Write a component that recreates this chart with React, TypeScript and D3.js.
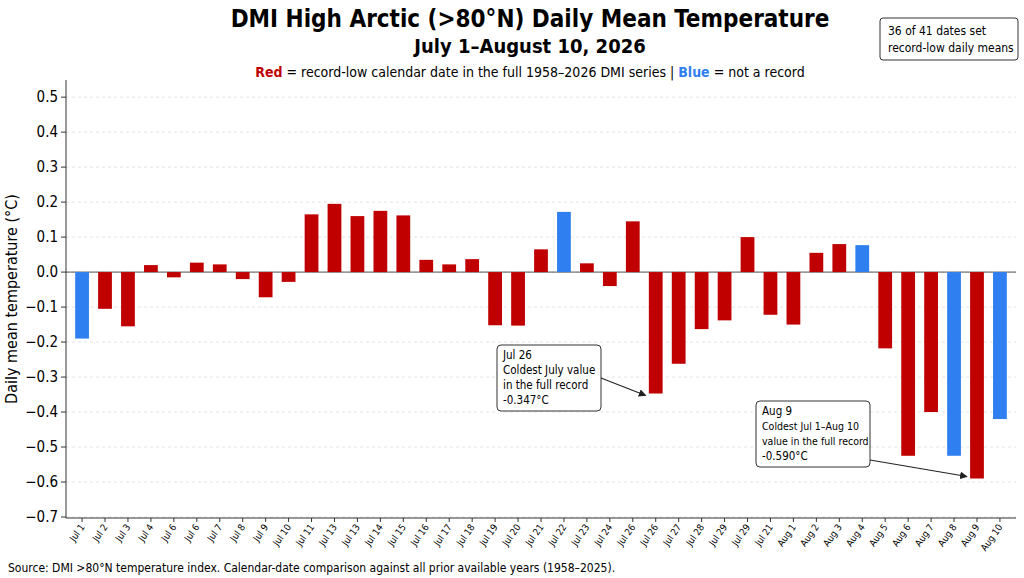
import React from "react";
import { scaleBand, scaleLinear, range } from "d3";

const labels = [
  "Jul 1", "Jul 2", "Jul 3", "Jul 4", "Jul 6", "Jul 6", "Jul 7", "Jul 8", "Jul 9", "Jul 10",
  "Jul 11", "Jul 13", "Jul 13", "Jul 14", "Jul 15", "Jul 16", "Jul 17", "Jul 18", "Jul 19", "Jul 20",
  "Jul 21", "Jul 22", "Jul 23", "Jul 24", "Jul 26", "Jul 26", "Jul 27", "Jul 28", "Jul 29", "Jul 29",
  "Jul 21", "Aug 1", "Aug 2", "Aug 3", "Aug 4", "Aug 5", "Aug 6", "Aug 7", "Aug 8", "Aug 9", "Aug 10",
];
const values = [
  -0.19, -0.105, -0.155, 0.02, -0.015, 0.027, 0.022, -0.02, -0.072, -0.028,
  0.165, 0.195, 0.16, 0.175, 0.162, 0.035, 0.022, 0.037, -0.152, -0.153,
  0.065, 0.172, 0.025, -0.04, 0.145, -0.347, -0.262, -0.163, -0.138, 0.1,
  -0.122, -0.15, 0.055, 0.08, 0.077, -0.218, -0.525, -0.4, -0.525, -0.59, -0.42,
];
const records = values.map((_, i) => ![0, 21, 34, 38, 40].includes(i));
const yTicks = range(-7, 6).map((v) => v / 10);

const RED = "#c00000";
const BLUE = "#2f7ff0";
const W = 1024, H = 578;
const M = { left: 66, right: 1016, top: 80, bottom: 518 };
const font = "'DejaVu Sans Condensed', 'DejaVu Sans', sans-serif";

export default function App() {
  const x = scaleBand<number>().domain(range(labels.length)).range([M.left, M.right]).padding(0.4);
  const y = scaleLinear().domain([-0.7, 0.549]).range([M.bottom - 1, M.top]);
  const cx = (i: number) => x(i)! + x.bandwidth() / 2;

  return (
    <svg width={W} height={H} style={{ position: "absolute", left: 0, top: 0, background: "#fff" }} fontFamily={font}>
      <text x={530} y={27} textAnchor="middle" fontSize={24} fontWeight="bold">DMI High Arctic (&gt;80°N) Daily Mean Temperature</text>
      <text x={530} y={53} textAnchor="middle" fontSize={20} fontWeight="bold">July 1–August 10, 2026</text>
      <text x={530} y={77} textAnchor="middle" fontSize={14}>
        <tspan fill={RED} fontWeight="bold">Red</tspan>
        <tspan> = record-low calendar date in the full 1958–2026 DMI series | </tspan>
        <tspan fill={BLUE} fontWeight="bold">Blue</tspan>
        <tspan> = not a record</tspan>
      </text>
      <rect x={880} y={18} width={138} height={42} rx={3} fill="#fff" stroke="#333" />
      <text x={888} y={35} fontSize={12}>36 of 41 dates set</text>
      <text x={888} y={52} fontSize={12}>record-low daily means</text>

      {yTicks.map((t) => (
        <g key={t}>
          <line x1={M.left} x2={M.right} y1={y(t)} y2={y(t)} stroke="#ddd" strokeDasharray="3,3" strokeWidth={0.8} />
          <line x1={M.left - 5} x2={M.left} y1={y(t)} y2={y(t)} stroke="#333" />
          <text x={M.left - 8} y={y(t) + 5} textAnchor="end" fontSize={15}>{t === 0 ? "0.0" : t.toFixed(1).replace("-", "−")}</text>
        </g>
      ))}
      <line x1={M.left} x2={M.right} y1={y(0)} y2={y(0)} stroke="#555" strokeWidth={1} />

      {values.map((v, i) => (
        <rect key={i} x={x(i)} width={x.bandwidth()} y={Math.min(y(v), y(0))} height={Math.abs(y(v) - y(0))} fill={records[i] ? RED : BLUE} />
      ))}

      <line x1={M.left} x2={M.left} y1={M.top} y2={M.bottom} stroke="#333" />
      <line x1={M.left} x2={M.right} y1={M.bottom} y2={M.bottom} stroke="#333" />
      {labels.map((l, i) => (
        <g key={i}>
          <line x1={cx(i)} x2={cx(i)} y1={M.bottom} y2={M.bottom + 4} stroke="#333" />
          <text transform={`translate(${cx(i) + 3},${M.bottom + 9}) rotate(-55)`} textAnchor="end" fontSize={9.5}>{l}</text>
        </g>
      ))}
      <text transform={`translate(17,${(M.top + M.bottom) / 2}) rotate(-90)`} textAnchor="middle" fontSize={16}>Daily mean temperature (°C)</text>

      <rect x={497} y={345} width={104} height={66} rx={4} fill="#fff" stroke="#333" />
      <text x={503} y={359} fontSize={11.5}>Jul 26</text>
      <text x={503} y={374} fontSize={11.5}>Coldest July value</text>
      <text x={503} y={389} fontSize={11.5}>in the full record</text>
      <text x={503} y={404} fontSize={11.5}>-0.347°C</text>
      <line x1={601} y1={378} x2={cx(25) - 10} y2={y(-0.347) + 2} stroke="#222" strokeWidth={1.1} markerEnd="url(#ah)" />

      <rect x={756} y={401} width={114} height={66} rx={4} fill="#fff" stroke="#333" />
      <text x={762} y={415} fontSize={11.5}>Aug 9</text>
      <text x={762} y={430} fontSize={10.5}>Coldest Jul 1–Aug 10</text>
      <text x={762} y={445} fontSize={10.5}>value in the full record</text>
      <text x={762} y={460} fontSize={11.5}>-0.590°C</text>
      <line x1={870} y1={460} x2={cx(39) - 10} y2={y(-0.59) - 2} stroke="#222" strokeWidth={1.1} markerEnd="url(#ah)" />

      <defs>
        <marker id="ah" viewBox="0 0 10 10" refX={9} refY={5} markerWidth={7} markerHeight={7} orient="auto">
          <path d="M0,0L10,5L0,10z" fill="#222" />
        </marker>
      </defs>

      <text x={8} y={572} fontSize={12}>Source: DMI &gt;80°N temperature index. Calendar-date comparison against all prior available years (1958–2025).</text>
    </svg>
  );
}
